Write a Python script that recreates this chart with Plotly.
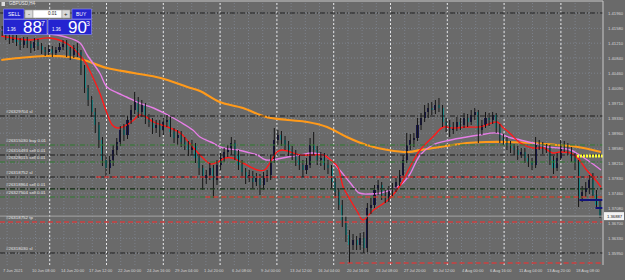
import plotly.graph_objects as go

# ---------------- data ----------------
# one candle = two H4 bars; x is measured in H4 bars from the left edge
opens = [1.41540, 1.41490, 1.41390, 1.41290, 1.41340, 1.41240, 1.41165, 1.41290, 1.41190, 1.41090,
         1.41240, 1.41140, 1.41040, 1.40990, 1.41065, 1.40965, 1.41040, 1.41115, 1.41190, 1.41040,
         1.40915, 1.41090, 1.40990, 1.40590, 1.40090, 1.39790, 1.39490, 1.39165, 1.38790, 1.38290,
         1.38090, 1.38290, 1.38540, 1.38740, 1.39040, 1.38915, 1.39290, 1.39540, 1.39790, 1.39490,
         1.39665, 1.39340, 1.39240, 1.39090, 1.39165, 1.39040, 1.39240, 1.39290, 1.38990, 1.38840,
         1.38915, 1.38740, 1.38665, 1.38540, 1.38640, 1.38340, 1.38090, 1.37840, 1.37915, 1.38090,
         1.37790, 1.38165, 1.38340, 1.38490, 1.38540, 1.38715, 1.38415, 1.38165, 1.37990, 1.37840,
         1.37915, 1.37740, 1.37840, 1.37665, 1.37840, 1.37915, 1.38290, 1.38790, 1.38915, 1.38790,
         1.38665, 1.38540, 1.38415, 1.38290, 1.38165, 1.38040, 1.38165, 1.38665, 1.38540, 1.38290,
         1.38340, 1.38165, 1.38090, 1.37740, 1.37490, 1.37165, 1.36790, 1.36415, 1.36165, 1.36290,
         1.36165, 1.36340, 1.36090, 1.37090, 1.37165, 1.37540, 1.37665, 1.37415, 1.37340, 1.37540,
         1.37590, 1.37740, 1.37915, 1.38290, 1.38665, 1.38790, 1.38840, 1.39165, 1.39340, 1.39490,
         1.39590, 1.39540, 1.39665, 1.39590, 1.39240, 1.39165, 1.39040, 1.39090, 1.39240, 1.39165,
         1.39340, 1.39240, 1.39415, 1.39490, 1.39040, 1.39165, 1.39340, 1.39290, 1.39415, 1.39090,
         1.38840, 1.38790, 1.38665, 1.38590, 1.38540, 1.38415, 1.38490, 1.38340, 1.38240, 1.38165,
         1.38665, 1.38640, 1.38540, 1.38590, 1.38290, 1.38090, 1.38340, 1.38665, 1.38590, 1.38540,
         1.38340, 1.38240, 1.37340, 1.37490, 1.37590, 1.37790, 1.37415, 1.37165]
highs = [1.41640, 1.41565, 1.41465, 1.41415, 1.41415, 1.41340, 1.41365, 1.41365, 1.41265, 1.41340,
         1.41315, 1.41215, 1.41115, 1.41165, 1.41140, 1.41115, 1.41215, 1.41290, 1.41290, 1.41115,
         1.41165, 1.41215, 1.41040, 1.40665, 1.40165, 1.39890, 1.39590, 1.39240, 1.38865, 1.38415,
         1.38390, 1.38665, 1.38840, 1.39140, 1.39190, 1.39390, 1.39665, 1.39990, 1.39865, 1.39790,
         1.39715, 1.39440, 1.39340, 1.39290, 1.39290, 1.39340, 1.39415, 1.39365, 1.39090, 1.39040,
         1.39015, 1.38865, 1.38765, 1.38790, 1.38715, 1.38440, 1.38165, 1.38040, 1.38215, 1.38165,
         1.38290, 1.38465, 1.38590, 1.38665, 1.38865, 1.38790, 1.38540, 1.38290, 1.38090, 1.38040,
         1.38015, 1.37965, 1.37940, 1.37990, 1.38040, 1.38415, 1.39090, 1.39040, 1.39015, 1.38890,
         1.38765, 1.38640, 1.38540, 1.38415, 1.38290, 1.38340, 1.38840, 1.38990, 1.38640, 1.38490,
         1.38465, 1.38290, 1.38165, 1.37840, 1.37590, 1.37290, 1.36890, 1.36540, 1.36440, 1.36390,
         1.36465, 1.36490, 1.37215, 1.37340, 1.37665, 1.37790, 1.37740, 1.37540, 1.37640, 1.37715,
         1.37840, 1.38040, 1.38415, 1.38965, 1.38940, 1.38965, 1.39340, 1.39465, 1.39665, 1.39715,
         1.39740, 1.39790, 1.39840, 1.39665, 1.39340, 1.39290, 1.39240, 1.39365, 1.39340, 1.39465,
         1.39440, 1.39540, 1.39590, 1.39540, 1.39290, 1.39490, 1.39465, 1.39490, 1.39465, 1.39190,
         1.38940, 1.38865, 1.38765, 1.38690, 1.38640, 1.38590, 1.38590, 1.38440, 1.38340, 1.38865,
         1.38790, 1.38740, 1.38690, 1.38665, 1.38390, 1.38465, 1.38790, 1.38765, 1.38715, 1.38615,
         1.38465, 1.38290, 1.37640, 1.37740, 1.37915, 1.37965, 1.37540, 1.37290]
lows = [1.41390, 1.41290, 1.41190, 1.41215, 1.41140, 1.41040, 1.41090, 1.41090, 1.40965, 1.41015,
        1.41040, 1.40940, 1.40890, 1.40915, 1.40865, 1.40915, 1.40990, 1.41040, 1.40865, 1.40790,
        1.40840, 1.40865, 1.40415, 1.39965, 1.39640, 1.39365, 1.38965, 1.38590, 1.38140, 1.37865,
        1.37940, 1.38140, 1.38415, 1.38640, 1.38765, 1.38815, 1.39190, 1.39440, 1.39340, 1.39365,
        1.39190, 1.39115, 1.38940, 1.38965, 1.38865, 1.38915, 1.39115, 1.38865, 1.38715, 1.38665,
        1.38615, 1.38540, 1.38390, 1.38415, 1.38215, 1.37915, 1.37540, 1.37690, 1.37790, 1.37340,
        1.37665, 1.38040, 1.38240, 1.38365, 1.38415, 1.38290, 1.38040, 1.37840, 1.37690, 1.37740,
        1.37590, 1.37640, 1.37415, 1.37540, 1.37740, 1.37790, 1.38215, 1.38665, 1.38640, 1.38540,
        1.38390, 1.38290, 1.38140, 1.38040, 1.37865, 1.37940, 1.38090, 1.38415, 1.38165, 1.38140,
        1.38040, 1.37940, 1.37590, 1.37340, 1.37040, 1.36615, 1.36240, 1.35715, 1.36040, 1.36040,
        1.36040, 1.35965, 1.35990, 1.36940, 1.37090, 1.37415, 1.37290, 1.37215, 1.37240, 1.37390,
        1.37490, 1.37640, 1.37840, 1.38215, 1.38540, 1.38615, 1.38765, 1.39040, 1.39240, 1.39340,
        1.39415, 1.39440, 1.39490, 1.39115, 1.38990, 1.38865, 1.38940, 1.39015, 1.39040, 1.39090,
        1.39115, 1.39165, 1.39290, 1.38715, 1.38915, 1.39090, 1.39140, 1.39190, 1.38965, 1.38715,
        1.38665, 1.38540, 1.38465, 1.38415, 1.38290, 1.38340, 1.38215, 1.38115, 1.38040, 1.38090,
        1.38540, 1.38440, 1.38465, 1.38165, 1.37940, 1.38015, 1.38290, 1.38490, 1.38415, 1.38240,
        1.38040, 1.37115, 1.37240, 1.37365, 1.37440, 1.37340, 1.37090, 1.36840]
closes = [1.41490, 1.41390, 1.41290, 1.41340, 1.41240, 1.41165, 1.41290, 1.41190, 1.41090, 1.41240,
          1.41140, 1.41040, 1.40990, 1.41065, 1.40965, 1.41040, 1.41115, 1.41190, 1.41040, 1.40915,
          1.41090, 1.40990, 1.40590, 1.40090, 1.39790, 1.39490, 1.39165, 1.38790, 1.38290, 1.38090,
          1.38290, 1.38540, 1.38740, 1.39040, 1.38915, 1.39290, 1.39540, 1.39790, 1.39490, 1.39665,
          1.39340, 1.39240, 1.39090, 1.39165, 1.39040, 1.39240, 1.39290, 1.38990, 1.38840, 1.38915,
          1.38740, 1.38665, 1.38540, 1.38640, 1.38340, 1.38090, 1.37840, 1.37915, 1.38090, 1.37790,
          1.38165, 1.38340, 1.38490, 1.38540, 1.38715, 1.38415, 1.38165, 1.37990, 1.37840, 1.37915,
          1.37740, 1.37840, 1.37665, 1.37840, 1.37915, 1.38290, 1.38790, 1.38915, 1.38790, 1.38665,
          1.38540, 1.38415, 1.38290, 1.38165, 1.38040, 1.38165, 1.38665, 1.38540, 1.38290, 1.38340,
          1.38165, 1.38090, 1.37740, 1.37490, 1.37165, 1.36790, 1.36415, 1.36165, 1.36290, 1.36165,
          1.36340, 1.36090, 1.37090, 1.37165, 1.37540, 1.37665, 1.37415, 1.37340, 1.37540, 1.37590,
          1.37740, 1.37915, 1.38290, 1.38665, 1.38790, 1.38840, 1.39165, 1.39340, 1.39490, 1.39590,
          1.39540, 1.39665, 1.39590, 1.39240, 1.39165, 1.39040, 1.39090, 1.39240, 1.39165, 1.39340,
          1.39240, 1.39415, 1.39490, 1.39040, 1.39165, 1.39340, 1.39290, 1.39415, 1.39090, 1.38840,
          1.38790, 1.38665, 1.38590, 1.38540, 1.38415, 1.38490, 1.38340, 1.38240, 1.38165, 1.38665,
          1.38640, 1.38540, 1.38590, 1.38290, 1.38090, 1.38340, 1.38665, 1.38590, 1.38540, 1.38340,
          1.38240, 1.37340, 1.37490, 1.37590, 1.37790, 1.37415, 1.37165, 1.36887]

# moving averages: (bar position, value)
red_bars = [0, 16, 27, 37, 46, 50, 55, 59, 62, 65, 70, 74, 77, 81, 85, 93, 100, 105, 111, 117, 121, 125,
            129, 135, 143, 147, 154, 157, 167, 174, 180, 184, 188, 191, 195, 199, 202, 208, 216, 223, 228,
            234, 241, 247, 252, 260, 267, 271, 277, 280, 284, 290, 297, 303, 308, 312, 318, 322, 327, 332, 335]
red_vals = [1.41390, 1.41290, 1.41340, 1.41190, 1.40790, 1.40465, 1.39965, 1.39465, 1.39165, 1.39090,
            1.39165, 1.39290, 1.39415, 1.39365, 1.39240, 1.39115, 1.38965, 1.38715, 1.38415, 1.38190,
            1.38240, 1.38340, 1.38340, 1.38215, 1.38040, 1.38040, 1.38490, 1.38540, 1.38415, 1.38415,
            1.38415, 1.38290, 1.38115, 1.37615, 1.37290, 1.36990, 1.36790, 1.37040, 1.37290, 1.37665,
            1.38090, 1.38540, 1.38865, 1.39115, 1.39090, 1.39115, 1.39115, 1.39165, 1.39240, 1.39115,
            1.38965, 1.38715, 1.38590, 1.38590, 1.38465, 1.38490, 1.38465, 1.38340, 1.38040, 1.37790, 1.37615]
violet_bars = [0, 22, 36, 44, 48, 55, 59, 65, 70, 77, 85, 93, 100, 107, 111, 117, 124, 132, 137, 143, 148,
               160, 167, 174, 182, 189, 195, 200, 206, 212, 223, 228, 234, 241, 251, 260, 267, 277, 283,
               290, 297, 305, 312, 318, 323, 329, 335]
violet_vals = [1.41540, 1.41465, 1.41365, 1.41215, 1.40915, 1.40465, 1.40115, 1.39965, 1.39865, 1.39715,
               1.39590, 1.39415, 1.39240, 1.39040, 1.38865, 1.38740, 1.38590, 1.38540, 1.38490, 1.38415,
               1.38290, 1.38365, 1.38415, 1.38465, 1.38365, 1.38040, 1.37715, 1.37465, 1.37440, 1.37465,
               1.37665, 1.37915, 1.38415, 1.38665, 1.38790, 1.38865, 1.38915, 1.38965, 1.38865, 1.38790,
               1.38715, 1.38615, 1.38590, 1.38540, 1.38415, 1.38240, 1.38040]
orange_bars = [0, 10, 24, 38, 46, 59, 74, 89, 104, 111, 122, 135, 148, 160, 171, 182, 193, 204, 216, 228,
               234, 245, 260, 271, 283, 297, 310, 322, 335]
orange_vals = [1.40790, 1.40840, 1.40890, 1.40865, 1.40790, 1.40590, 1.40465, 1.40340, 1.40115, 1.40015,
               1.39740, 1.39590, 1.39365, 1.39290, 1.39240, 1.39115, 1.38865, 1.38665, 1.38540, 1.38490,
               1.38540, 1.38615, 1.38715, 1.38740, 1.38740, 1.38715, 1.38665, 1.38615, 1.38490]

# time axis labels, one every 16 H4 bars
time_labels = ["7 Jun 2021", "10 Jun 08:00", "14 Jun 20:00", "17 Jun 12:00", "22 Jun 00:00",
               "24 Jun 16:00", "29 Jun 04:00", "1 Jul 20:00", "6 Jul 08:00", "9 Jul 00:00",
               "13 Jul 12:00", "16 Jul 04:00", "20 Jul 16:00", "23 Jul 08:00", "27 Jul 20:00",
               "30 Jul 12:00", "4 Aug 00:00", "6 Aug 16:00", "11 Aug 04:00", "13 Aug 20:00", "18 Aug 08:00"]
price_ticks = [1.41960, 1.41580, 1.41210, 1.40840, 1.40460, 1.40090, 1.39710, 1.39330, 1.38960,
               1.38580, 1.38210, 1.37830, 1.37460, 1.37080, 1.36700, 1.36330, 1.35950, 1.35580]

# trade lines: label, price, kind
order_labels = ["", "#26329704 sl", "#26315030 buy 0.01", "#26316493 sell 0.01", "#26328015 sell 0.01",
                "#26318752 sl", "#26318864 sell 0.01", "#26327504 sell 0.01", "#26318752 tp", "#26318030 sl"]
order_prices = [1.41965, 1.39390, 1.38665, 1.38415, 1.38240, 1.37865, 1.37565, 1.37365, 1.36740, 1.35965]
order_kinds = ["sl", "sl", "open", "sl", "open", "sl", "open", "open", "tp", "sl"]
# red dashed history segments: price, starting bar
hist_prices = [1.37865, 1.37365, 1.35715]
hist_start_bars = [53, 114, 189]
bid_price = 1.36887
yellow_price = 1.38390
navy_prices = [1.37290, 1.37090]
navy_start_bars = [323, 332]

# ---------------- geometry ----------------
W, H = 625, 280
PL, PR, PT, PB = 0, 603, 1, 265          # plot box in pixels
PX0, PXB = 1.3, 1.79                      # pixel of bar 0, pixels per bar
XMIN = (PL - PX0) / PXB
XMAX = (PR - PX0) / PXB
YTOP, YBOT = 1.42265, 1.35665


def fx(px):
    return (px - PL) / (PR - PL)


def fy(py):
    return (PB - py) / (PB - PT)


def bar_of_px(px):
    return (px - PX0) / PXB


BG = "#6a6a6a"
fig = go.Figure()

shapes = []
# faint grid
gx = 7.1
while gx < PR:
    shapes.append(dict(type="line", xref="x", yref="paper", x0=bar_of_px(gx), x1=bar_of_px(gx), y0=0, y1=1,
                       line=dict(color="#7c818b", width=1, dash="1px,2px"), layer="below"))
    gx += 14.2
for p in price_ticks:
    shapes.append(dict(type="line", xref="paper", yref="y", x0=0, x1=1, y0=p, y1=p,
                       line=dict(color="#7c818b", width=1, dash="1px,2px"), layer="below"))
# weekly separators
sx = 49.7
while sx < PR:
    shapes.append(dict(type="line", xref="x", yref="paper", x0=bar_of_px(sx), x1=bar_of_px(sx), y0=0, y1=1,
                       line=dict(color="#e6e6e6", width=1, dash="2px,2px"), layer="below"))
    sx += 56.8

# order lines
kind_style = {"sl": ("#1c1c1c", "5px,2px,1px,2px"), "open": ("#2f7a2f", "5px,2px,1px,2px"),
              "tp": ("#ff2a2a", "5px,3px")}
for lab, pr, kd in zip(order_labels, order_prices, order_kinds):
    col, dsh = kind_style[kd]
    shapes.append(dict(type="line", xref="paper", yref="y", x0=0, x1=1, y0=pr, y1=pr,
                       line=dict(color=col, width=1, dash=dsh)))
for pr in [order_prices[6]]:
    shapes.append(dict(type="line", xref="paper", yref="y", x0=0, x1=1, y0=pr + 0.00004, y1=pr + 0.00004,
                       line=dict(color="#1c1c1c", width=1, dash="5px,2px,1px,2px")))
for pr, sb in zip(hist_prices, hist_start_bars):
    shapes.append(dict(type="line", xref="x", yref="y", x0=sb, x1=XMAX, y0=pr, y1=pr,
                       line=dict(color="#ff2a2a", width=1, dash="5px,3px")))
# bid line
shapes.append(dict(type="line", xref="paper", yref="y", x0=0, x1=1, y0=bid_price, y1=bid_price,
                   line=dict(color="#a4a4a4", width=1)))
# navy position lines
for pr, sb in zip(navy_prices, navy_start_bars):
    shapes.append(dict(type="line", xref="x", yref="y", x0=sb, x1=XMAX, y0=pr, y1=pr,
                       line=dict(color="#12127a", width=2)))
# yellow dotted
shapes.append(dict(type="line", xref="x", yref="y", x0=bar_of_px(577), x1=XMAX, y0=yellow_price, y1=yellow_price,
                   line=dict(color="#ffff33", width=3, dash="2px,1px")))

# moving averages
fig.add_trace(go.Scatter(x=orange_bars, y=orange_vals, mode="lines", line=dict(color="#ff9a1a", width=2.2),
                         line_shape="spline", hoverinfo="skip"))
fig.add_trace(go.Scatter(x=violet_bars, y=violet_vals, mode="lines", line=dict(color="#e77ee7", width=1.4),
                         line_shape="spline", hoverinfo="skip"))
fig.add_trace(go.Scatter(x=red_bars, y=red_vals, mode="lines", line=dict(color="#ff1a1a", width=1.4),
                         line_shape="spline", hoverinfo="skip"))

# candles
xs = [2 * j + 0.5 for j in range(len(opens))]
wx, wy = [], []
for x, hi, lo in zip(xs, highs, lows):
    wx += [x, x, None]
    wy += [lo, hi, None]
fig.add_trace(go.Scatter(x=wx, y=wy, mode="lines", line=dict(color="#161616", width=1), hoverinfo="skip"))
body_col = ["#18184a" if c > o else "#1e8c8c" for o, c in zip(opens, closes)]
body_h = [(c - o) if abs(c - o) > 0.00003 else 0.00004 for o, c in zip(opens, closes)]
fig.add_trace(go.Bar(x=xs, y=body_h, base=opens, width=1.15, marker=dict(color=body_col, line=dict(width=0)),
                     hoverinfo="skip"))

ann = []
FONT = "Liberation Sans"
# price labels
for p in price_ticks:
    ann.append(dict(xref="paper", yref="y", x=1, y=p, xanchor="left", yanchor="middle", xshift=3,
                    text=f"{p:.5f}", showarrow=False, font=dict(family=FONT, size=4.2, color="#d6d6d6")))
# time labels
for k, t in enumerate(time_labels):
    ann.append(dict(xref="x", yref="paper", x=16 * k, y=fy(266), xanchor="left", yanchor="top",
                    text=t, showarrow=False, font=dict(family=FONT, size=4, color="#d6d6d6")))
# order labels
for lab, pr in zip(order_labels, order_prices):
    if not lab:
        continue
    ann.append(dict(xref="paper", yref="y", x=fx(4), y=pr, xanchor="left", yanchor="bottom", yshift=0,
                    text=lab, showarrow=False, font=dict(family=FONT, size=4.4, color="#e6e6e6")))
# bid label box
shapes.append(dict(type="rect", xref="paper", yref="y", x0=fx(604), x1=fx(624), y0=bid_price - 0.0010,
                   y1=bid_price + 0.0010, fillcolor="#f2f2f2", line=dict(width=0)))
ann.append(dict(xref="paper", yref="y", x=fx(605), y=bid_price, xanchor="left", yanchor="middle",
                text=f"{bid_price:.5f}", showarrow=False, font=dict(family=FONT, size=4.2, color="#111111")))

# frame
shapes.append(dict(type="line", xref="paper", yref="paper", x0=0, x1=1, y0=1, y1=1,
                   line=dict(color="#c8c8c8", width=1)))
shapes.append(dict(type="line", xref="paper", yref="paper", x0=1, x1=1, y0=0, y1=1,
                   line=dict(color="#c8c8c8", width=1)))

# title
ann.append(dict(xref="paper", yref="paper", x=fx(7), y=fy(4), xanchor="left", yanchor="middle",
                text="GBPUSD,H4", showarrow=False, font=dict(family=FONT, size=4.5, color="#e6e6e6")))
shapes.append(dict(type="rect", xref="paper", yref="paper", x0=fx(1.5), x1=fx(5), y0=fy(6), y1=fy(2),
                   fillcolor="#dddddd", line=dict(width=0)))

# one-click trading panel
BLUE = "#2424d0"


def rect(x0, y0, x1, y1, fill, lc=None, lw=0):
    shapes.append(dict(type="rect", xref="paper", yref="paper", x0=fx(x0), x1=fx(x1), y0=fy(y1), y1=fy(y0),
                       fillcolor=fill, line=dict(color=lc or fill, width=lw)))


def text(x, y, s, size, color="#ffffff", anchor="left", bold=False):
    ann.append(dict(xref="paper", yref="paper", x=fx(x), y=fy(y), xanchor=anchor, yanchor="middle",
                    text=f"<b>{s}</b>" if bold else s, showarrow=False,
                    font=dict(family=FONT, size=size, color=color)))


rect(3.5, 9, 24, 19, BLUE, "#9090ff", 0.6)
rect(72, 9, 91.5, 19, BLUE, "#9090ff", 0.6)
rect(25, 10, 33, 18, "#d8d8d8", "#9a9a9a", 0.6)
rect(33, 10, 62, 18, "#ffffff", "#9a9a9a", 0.6)
rect(62, 10, 70, 18, "#d8d8d8", "#9a9a9a", 0.6)
rect(3.5, 19.5, 47, 34.5, BLUE, "#9090ff", 0.6)
rect(48, 19.5, 91.5, 34.5, BLUE, "#9090ff", 0.6)
text(13.5, 14, "SELL", 5, anchor="center")
text(81.5, 14, "BUY", 5, anchor="center")
text(29, 14, "-", 6, color="#222222", anchor="center")
text(66, 14, "+", 6, color="#222222", anchor="center")
text(52, 14, "0.01", 4.5, color="#222222", anchor="center")
text(5, 29, "1.36", 4.5)
text(21, 27, "88", 17)
text(39, 23, "7", 7)
text(50, 29, "1.36", 4.5)
text(66, 27, "90", 17)
text(84, 23, "3", 7)

fig.update_layout(
    width=W, height=H, margin=dict(l=PL, r=W - PR, t=PT, b=H - PB),
    paper_bgcolor=BG, plot_bgcolor=BG, showlegend=False, hovermode=False,
    xaxis=dict(range=[XMIN, XMAX], showgrid=False, zeroline=False, showticklabels=False, fixedrange=True),
    yaxis=dict(range=[YBOT, YTOP], showgrid=False, zeroline=False, showticklabels=False, fixedrange=True),
    shapes=shapes, annotations=ann, bargap=0,
)
fig.write_html("out.html")
